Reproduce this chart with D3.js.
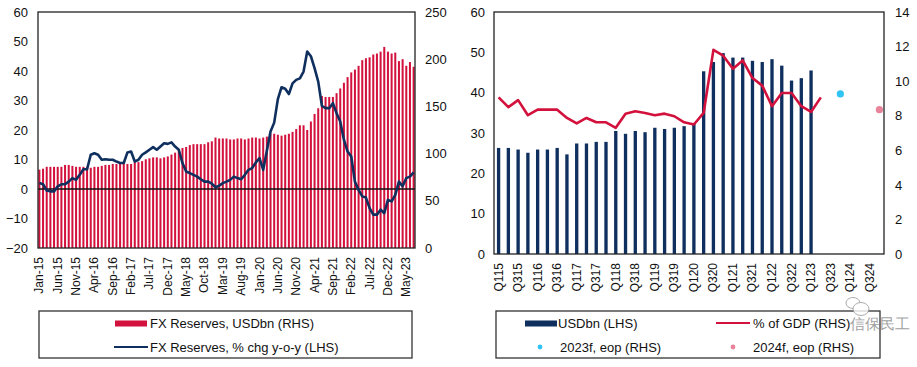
<!DOCTYPE html>
<html>
<head>
<meta charset="utf-8">
<script src="https://cdn.jsdelivr.net/npm/d3@7"></script>
<style>
body { margin: 0; background: #fff; }
text { font-family: "Liberation Sans", Arial, sans-serif; fill: #111; }
</style>
</head>
<body>
<div id="chart"></div>
<script>
// ---- data ----
// left chart: monthly, Jan-15 .. Jul-23
const monthStart = new Date(2015, 0, 1);
const monthEnd = new Date(2023, 6, 2);
const fxReservesUsd = [83,84,86,86,86,86,86,88,88,87,86,86,86,86,85,86,86,87,88,88,
  89,89,90,90,89,89,91,91,92,94,95,96,96,95,96,97,99,101,104,106,
  107,109,110,110,110,110,112,113,117,116,116,116,115,115,116,116,115,116,117,117,
  116,117,118,121,121,120,119,120,121,123,126,130,130,125,134,142,148,161,160,160,
  160,164,169,175,181,186,189,193,199,201,202,205,206,208,213,208,206,207,198,200,
  193,197,192];
const fxReservesChg = [2.0,1.6,-0.5,-0.8,-0.8,0.9,1.6,1.6,2.5,3.7,3.1,4.8,6.7,6.7,11.6,12.1,11.6,9.9,10.1,9.9,
  9.9,9.3,8.8,8.8,12.4,12.7,9.3,9.9,11.6,12.4,13.3,14.2,13.3,14.4,15.5,15.3,15.8,14.4,13.3,8.8,
  5.9,5.4,4.8,4.2,3.3,2.5,2.5,1.8,0.6,1.1,2.0,2.5,3.1,4.2,3.7,3.3,4.8,6.5,7.1,9.0,
  10.5,6.5,13.0,19.5,22.5,30.5,34.5,34.0,32.2,35.8,37.0,37.5,39.8,46.6,45.0,41.0,36.4,28.2,27.4,27.4,
  29.1,25.7,22.9,16.7,12.7,11.0,2.5,-0.3,-2.5,-2.9,-6.5,-8.7,-8.7,-7.0,-8.2,-3.7,-4.2,-2.0,2.5,0.9,
  3.7,4.2,5.6];
const leftTicksL = [-20,-10,0,10,20,30,40,50,60];
const leftTicksR = [0,50,100,150,200,250];

// right chart: quarterly, Q115 .. Q424
const years = [15,16,17,18,19,20,21,22,23,24];
const usdBn = [26.3,26.3,25.9,25.1,25.9,25.9,26.3,24.7,27.4,27.4,27.8,27.8,30.5,29.8,30.5,30.2,
  31.3,31.0,31.3,31.7,32.5,45.3,47.6,49.8,48.7,48.7,47.9,47.6,48.3,46.7,43.0,43.6,45.5];
const pctGdp = [9.06,8.5,8.9,8.03,8.35,8.35,8.35,7.87,7.55,7.87,7.62,7.62,7.3,8.12,8.26,8.16,
  8.03,8.12,7.97,7.62,7.49,8.16,11.81,11.47,10.72,11.2,10.18,9.74,8.55,9.31,9.31,8.55,8.22,9.06];
const forecast = [{q: "Q423", v: 9.26, name: "2023f, eop (RHS)", color: "#30c4f5"},
                  {q: "Q424", v: 8.35, name: "2024f, eop (RHS)", color: "#e8839a"}];
const rightTicksL = [0,10,20,30,40,50,60];
const rightTicksR = [0,2,4,6,8,10,12,14];

const RED = "#d3113d", NAVY = "#0f2f5f";

const svg = d3.select("#chart").append("svg")
    .attr("width", 917)
    .attr("height", 367);

// ================= left chart =================
const months = d3.timeMonth.range(monthStart, monthEnd).map(d3.timeFormat("%b-%y"));
const L = {x0: 38, x1: 415, y0: 12, y1: 248};

let xL = d3.scaleBand().domain(months).range([L.x0, L.x1]).paddingInner(0.45).paddingOuter(0.1);
let yLl = d3.scaleLinear().domain([-20, 60]).range([L.y1, L.y0]);
let yLr = d3.scaleLinear().domain([0, 250]).range([L.y1, L.y0]);

svg.selectAll(".barL")
    .data(fxReservesUsd)
    .enter()
    .append("rect")
    .attr("class", "barL")
    .attr("x", (d, i) => xL(months[i]))
    .attr("width", xL.bandwidth())
    .attr("y", d => yLr(d))
    .attr("height", d => yLr(0) - yLr(d))
    .attr("fill", RED);

// zero line
svg.append("line")
    .attr("x1", L.x0).attr("x2", L.x1)
    .attr("y1", yLl(0)).attr("y2", yLl(0))
    .attr("stroke", "#111").attr("stroke-width", 1.3);

let lineL = d3.line()
    .x((d, i) => xL(months[i]) + xL.bandwidth() / 2)
    .y(d => yLl(d));
svg.append("path")
    .datum(fxReservesChg)
    .attr("d", lineL)
    .attr("fill", "none")
    .attr("stroke", NAVY)
    .attr("stroke-width", 2.6)
    .attr("stroke-linejoin", "round");

svg.append("rect")
    .attr("x", L.x0).attr("y", L.y0)
    .attr("width", L.x1 - L.x0).attr("height", L.y1 - L.y0)
    .attr("fill", "none").attr("stroke", "#222").attr("stroke-width", 1.3);

// y axes (text only)
svg.append("g")
    .attr("transform", "translate(" + (L.x0 - 10) + ",0)")
    .call(d3.axisLeft(yLl).tickValues(leftTicksL).tickSize(0).tickPadding(0))
    .call(g => g.select(".domain").remove())
    .selectAll("text").attr("font-size", 13).attr("fill", "#111");
svg.append("g")
    .attr("transform", "translate(" + (L.x1 + 10) + ",0)")
    .call(d3.axisRight(yLr).tickValues(leftTicksR).tickSize(0).tickPadding(0))
    .call(g => g.select(".domain").remove())
    .selectAll("text").attr("font-size", 13).attr("fill", "#111");

// x labels every 5 months
svg.selectAll(".xlabL")
    .data(months.filter((m, i) => i % 5 === 0))
    .enter()
    .append("text")
    .attr("class", "xlabL")
    .attr("transform", d => "translate(" + (xL(d) + xL.bandwidth() / 2 + 4) + "," + (L.y1 + 9) + ") rotate(-90)")
    .attr("text-anchor", "end")
    .attr("font-size", 12)
    .text(d => d);

// legend left
svg.append("rect")
    .attr("x", 39).attr("y", 311).attr("width", 373).attr("height", 47)
    .attr("fill", "none").attr("stroke", "#333").attr("stroke-width", 1.3);
svg.append("rect")
    .attr("x", 115).attr("y", 320.5).attr("width", 32).attr("height", 6)
    .attr("fill", RED);
svg.append("text").attr("x", 150).attr("y", 328).attr("font-size", 13)
    .text("FX Reserves, USDbn (RHS)");
svg.append("line")
    .attr("x1", 114).attr("x2", 148).attr("y1", 347).attr("y2", 347)
    .attr("stroke", NAVY).attr("stroke-width", 2.2);
svg.append("text").attr("x", 150).attr("y", 352).attr("font-size", 13)
    .text("FX Reserves, % chg y-o-y (LHS)");

// ================= right chart =================
const quarters = [];
years.forEach(y => { for (let q = 1; q <= 4; q++) quarters.push("Q" + q + y); });
const R = {x0: 494, x1: 884, y0: 12, y1: 254};

let xR = d3.scaleBand().domain(quarters).range([R.x0, R.x1]).paddingInner(0.66).paddingOuter(0.3);
let yRl = d3.scaleLinear().domain([0, 60]).range([R.y1, R.y0]);
let yRr = d3.scaleLinear().domain([0, 14]).range([R.y1, R.y0]);
const cx = q => xR(q) + xR.bandwidth() / 2;

svg.selectAll(".barR")
    .data(usdBn)
    .enter()
    .append("rect")
    .attr("class", "barR")
    .attr("x", (d, i) => xR(quarters[i]))
    .attr("width", xR.bandwidth())
    .attr("y", d => yRl(d))
    .attr("height", d => yRl(0) - yRl(d))
    .attr("fill", NAVY);

let lineR = d3.line()
    .x((d, i) => cx(quarters[i]))
    .y(d => yRr(d));
svg.append("path")
    .datum(pctGdp)
    .attr("d", lineR)
    .attr("fill", "none")
    .attr("stroke", RED)
    .attr("stroke-width", 2.6)
    .attr("stroke-linejoin", "round");

svg.selectAll(".dot")
    .data(forecast)
    .enter()
    .append("circle")
    .attr("cx", d => cx(d.q))
    .attr("cy", d => yRr(d.v))
    .attr("r", 3.6)
    .attr("fill", d => d.color);

svg.append("rect")
    .attr("x", R.x0).attr("y", R.y0)
    .attr("width", R.x1 - R.x0).attr("height", R.y1 - R.y0)
    .attr("fill", "none").attr("stroke", "#222").attr("stroke-width", 1.3);

svg.append("g")
    .attr("transform", "translate(" + (R.x0 - 9) + ",0)")
    .call(d3.axisLeft(yRl).tickValues(rightTicksL).tickSize(0).tickPadding(0))
    .call(g => g.select(".domain").remove())
    .selectAll("text").attr("font-size", 13).attr("fill", "#111");
svg.append("g")
    .attr("transform", "translate(" + (R.x1 + 11) + ",0)")
    .call(d3.axisRight(yRr).tickValues(rightTicksR).tickSize(0).tickPadding(0))
    .call(g => g.select(".domain").remove())
    .selectAll("text").attr("font-size", 13).attr("fill", "#111");

svg.selectAll(".xlabR")
    .data(quarters.filter((q, i) => i % 2 === 0))
    .enter()
    .append("text")
    .attr("class", "xlabR")
    .attr("transform", d => "translate(" + (cx(d) + 4) + "," + (R.y1 + 9) + ") rotate(-90)")
    .attr("text-anchor", "end")
    .attr("font-size", 12)
    .text(d => d);

// legend right
svg.append("rect")
    .attr("x", 496).attr("y", 311).attr("width", 384).attr("height", 47)
    .attr("fill", "none").attr("stroke", "#333").attr("stroke-width", 1.3);
svg.append("rect")
    .attr("x", 525).attr("y", 320.5).attr("width", 32).attr("height", 6)
    .attr("fill", NAVY);
svg.append("text").attr("x", 558).attr("y", 328).attr("font-size", 13)
    .text("USDbn (LHS)");
svg.append("line")
    .attr("x1", 716).attr("x2", 750).attr("y1", 323).attr("y2", 323)
    .attr("stroke", RED).attr("stroke-width", 2.2);
svg.append("text").attr("x", 753).attr("y", 328).attr("font-size", 13)
    .text("% of GDP (RHS)");
forecast.forEach((f, i) => {
    let lx = i === 0 ? 540 : 733;
    svg.append("circle").attr("cx", lx).attr("cy", 347).attr("r", 2.4).attr("fill", f.color);
    svg.append("text").attr("x", lx + 20).attr("y", 352).attr("font-size", 13).text(f.name);
});

// watermark, kept just clear of the legend text
let wm = svg.append("g").attr("opacity", 0.8);
wm.append("ellipse").attr("cx", 853).attr("cy", 303).attr("rx", 7).attr("ry", 5.5)
    .attr("fill", "#fff").attr("stroke", "#999").attr("stroke-width", 1);
wm.append("ellipse").attr("cx", 861).attr("cy", 309).attr("rx", 8).attr("ry", 6.5)
    .attr("fill", "#fff").attr("stroke", "#999").attr("stroke-width", 1);
wm.append("text").attr("x", 850).attr("y", 329).attr("font-size", 15)
    .attr("font-family", "Noto Sans CJK SC")
    .style("fill", "#8a8a8a")
    .text("信保民工");
</script>
</body>
</html>
